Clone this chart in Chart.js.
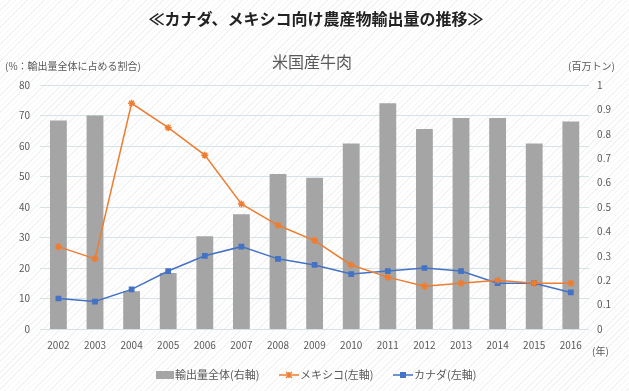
<!DOCTYPE html>
<html>
<head>
<meta charset="utf-8">
<script src="https://cdn.jsdelivr.net/npm/chart.js@4"></script>
<style>
  html, body { margin: 0; padding: 0; }
  body {
    width: 629px; height: 391px; overflow: hidden;
    background: #ffffff repeating-linear-gradient(135deg, #ffffff 0px, #ffffff 3px, #f3f3f3 3px, #f3f3f3 4px);
  }
  #wrap { position: relative; width: 629px; height: 391px; }
</style>
</head>
<body>
<div id="wrap"><canvas id="c" width="629" height="391"></canvas></div>
<script>
// US beef exports to Canada / Mexico
const years = ['2002','2003','2004','2005','2006','2007','2008','2009','2010','2011','2012','2013','2014','2015','2016'];
// total exports, million tonnes (right axis)
const totalExports = [0.855, 0.875, 0.155, 0.23, 0.38, 0.47, 0.635, 0.62, 0.76, 0.925, 0.82, 0.865, 0.865, 0.76, 0.85];
// share of total exports, % (left axis)
const mexicoShare = [27, 23, 74, 66, 57, 41, 34, 29, 21, 17, 14, 15, 16, 15, 15];
const canadaShare = [10, 9, 13, 19, 24, 27, 23, 21, 18, 19, 20, 19, 15, 15, 12];
const leftTicks = [0, 10, 20, 30, 40, 50, 60, 70, 80];
const rightTicks = [0, 0.1, 0.2, 0.3, 0.4, 0.5, 0.6, 0.7, 0.8, 0.9, 1];

const FONT = '"Noto Sans CJK JP", "Noto Sans", sans-serif';
const GRAY = '#595959';
const BAR = '#a5a5a5';
const ORANGE = '#ed7d31';
const BLUE = '#4472c4';

// titles, axis captions and legend drawn on the canvas
const textPlugin = {
    id: 'texts',
    afterDraw(chart) {
        const ctx = chart.ctx;
        ctx.save();
        ctx.textBaseline = 'middle';

        ctx.fillStyle = '#222';
        ctx.font = 'bold 16px ' + FONT;
        ctx.textAlign = 'center';
        ctx.fillText('≪カナダ、メキシコ向け農産物輸出量の推移≫', 316, 19);

        ctx.fillStyle = GRAY;
        ctx.font = '16px ' + FONT;
        ctx.fillText('米国産牛肉', 312, 62);

        ctx.font = '10px ' + FONT;
        ctx.textAlign = 'left';
        ctx.fillText('(%：輸出量全体に占める割合)', 5, 66);
        ctx.fillText('(百万トン)', 568, 66);
        ctx.fillText('(年)', 592, 351);

        // legend
        const ly = 375;
        ctx.fillStyle = BAR;
        ctx.fillRect(156, ly - 4, 18, 8);
        ctx.fillStyle = GRAY;
        ctx.font = '11px ' + FONT;
        ctx.fillText('輸出量全体(右軸)', 175, ly);

        ctx.strokeStyle = ORANGE;
        ctx.lineWidth = 1.5;
        ctx.beginPath(); ctx.moveTo(279, ly); ctx.lineTo(299, ly); ctx.stroke();
        ctx.beginPath();
        ctx.moveTo(286, ly - 3); ctx.lineTo(292, ly + 3);
        ctx.moveTo(292, ly - 3); ctx.lineTo(286, ly + 3);
        ctx.moveTo(289, ly - 3); ctx.lineTo(289, ly + 3);
        ctx.stroke();
        ctx.fillText('メキシコ(左軸)', 300, ly);

        ctx.strokeStyle = BLUE;
        ctx.beginPath(); ctx.moveTo(393, ly); ctx.lineTo(413, ly); ctx.stroke();
        ctx.fillStyle = BLUE;
        ctx.fillRect(400, ly - 3, 6, 6);
        ctx.fillStyle = GRAY;
        ctx.fillText('カナダ(左軸)', 414, ly);
        ctx.restore();
    }
};

new Chart(document.getElementById('c').getContext('2d'), {
    data: {
        labels: years,
        datasets: [
            {
                type: 'line',
                label: 'メキシコ(左軸)',
                data: mexicoShare,
                yAxisID: 'y',
                borderColor: ORANGE,
                backgroundColor: ORANGE,
                borderWidth: 1.5,
                pointStyle: 'star',
                pointRadius: 3.5,
                pointBorderWidth: 1.5,
                tension: 0,
                order: 1
            },
            {
                type: 'line',
                label: 'カナダ(左軸)',
                data: canadaShare,
                yAxisID: 'y',
                borderColor: BLUE,
                backgroundColor: BLUE,
                borderWidth: 1.5,
                pointStyle: 'rect',
                pointRadius: 3,
                tension: 0,
                order: 2
            },
            {
                type: 'bar',
                label: '輸出量全体(右軸)',
                data: totalExports,
                yAxisID: 'y1',
                backgroundColor: BAR,
                barPercentage: 0.46,
                categoryPercentage: 1,
                order: 3
            }
        ]
    },
    options: {
        responsive: false,
        animation: false,
        layout: { padding: { top: 85, left: 9, right: 10, bottom: 38 } },
        plugins: {
            legend: { display: false },
            title: { display: false },
            tooltip: { enabled: false }
        },
        scales: {
            x: {
                grid: { display: false },
                border: { display: false },
                ticks: { color: GRAY, font: { size: 10, family: FONT }, maxRotation: 0, padding: 2 }
            },
            y: {
                position: 'left',
                min: 0, max: 80,
                afterBuildTicks(axis) { axis.ticks = leftTicks.map(v => ({ value: v })); },
                grid: { color: '#d6e3e6', drawTicks: false },
                border: { display: false },
                ticks: { color: GRAY, font: { size: 10, family: FONT }, padding: 10 }
            },
            y1: {
                position: 'right',
                min: 0, max: 1,
                afterBuildTicks(axis) { axis.ticks = rightTicks.map(v => ({ value: v })); },
                grid: { display: false, drawTicks: false },
                border: { display: false },
                ticks: { color: GRAY, font: { size: 10, family: FONT }, padding: 8,
                    callback: v => String(Math.round(v * 10) / 10) }
            }
        }
    },
    plugins: [textPlugin]
});
</script>
</body>
</html>
